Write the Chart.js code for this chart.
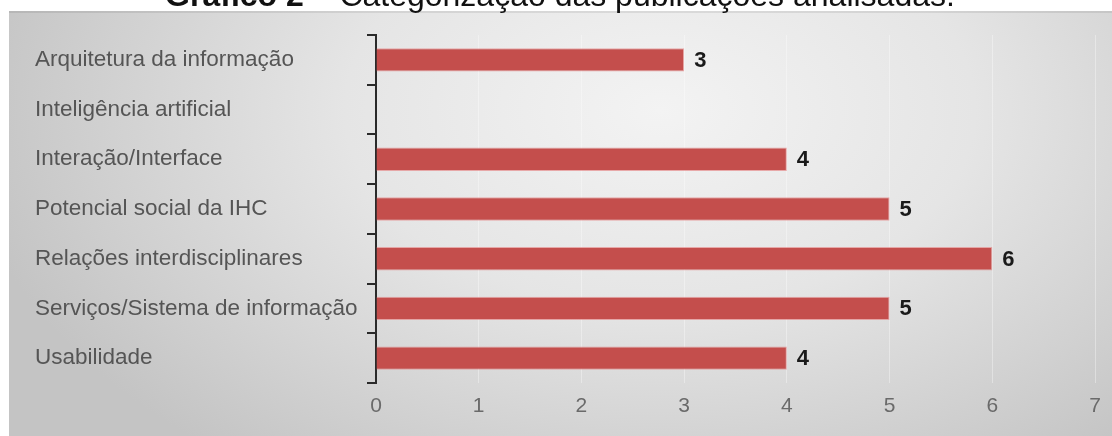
<!DOCTYPE html>
<html>
<head>
<meta charset="utf-8">
<script src="https://cdn.jsdelivr.net/npm/chart.js@4.4.1/dist/chart.umd.min.js"></script>
<style>
  html, body { margin: 0; padding: 0; background: #fff; }
  canvas { display: block; }
</style>
</head>
<body>
<canvas id="grafico" width="1112" height="436"></canvas>
<script>
// dados do gráfico
const categorias = [
  'Arquitetura da informação',
  'Inteligência artificial',
  'Interação/Interface',
  'Potencial social da IHC',
  'Relações interdisciplinares',
  'Serviços/Sistema de informação',
  'Usabilidade'
];
const publicacoes = [3, 0, 4, 5, 6, 5, 4];
const eixoMin = 0;
const eixoMax = 7;
const tituloNegrito = 'Gráfico 2';
const tituloResto = ' – Categorização das publicações analisadas.';

// fundo cinza em degradê + título (cortado no topo)
const fundo = {
  id: 'fundo',
  beforeDraw(chart) {
    const ctx = chart.ctx;
    const W = chart.width, H = chart.height;
    ctx.save();
    ctx.fillStyle = '#fff';
    ctx.fillRect(0, 0, W, H);

    // caixa com degradê radial elíptico
    const bx = 9, by = 11;
    const cx = 660, cy = 110, rx = 700, ry = 440;
    ctx.save();
    ctx.translate(cx, cy);
    ctx.scale(1, ry / rx);
    const g = ctx.createRadialGradient(0, 0, 0, 0, 0, rx);
    g.addColorStop(0, '#f3f3f3');
    g.addColorStop(0.45, '#e5e5e5');
    g.addColorStop(1, '#c4c4c4');
    ctx.fillStyle = g;
    const k = rx / ry;
    ctx.fillRect(bx - cx, (by - cy) * k, W - bx, (H - by) * k);
    ctx.restore();
    // leve sombra na borda superior
    ctx.fillStyle = 'rgba(0,0,0,0.08)';
    ctx.fillRect(bx, by, W - bx, 2);

    // título
    ctx.textBaseline = 'alphabetic';
    ctx.fillStyle = '#111';
    const fb = 'bold 32px "Liberation Sans", Arial, sans-serif';
    const fn = '32px "Liberation Sans", Arial, sans-serif';
    ctx.font = fb;
    const w1 = ctx.measureText(tituloNegrito).width;
    ctx.font = fn;
    const w2 = ctx.measureText(tituloResto).width;
    const x0 = 560 - (w1 + w2) / 2;
    ctx.font = fb;
    ctx.fillText(tituloNegrito, x0, 6);
    ctx.font = fn;
    ctx.fillText(tituloResto, x0 + w1, 6);
    ctx.restore();
  }
};

// valores no fim das barras
const rotulos = {
  id: 'rotulos',
  afterDatasetsDraw(chart) {
    const ctx = chart.ctx;
    const meta = chart.getDatasetMeta(0);
    ctx.save();
    ctx.font = 'bold 22px "Liberation Sans", Arial, sans-serif';
    ctx.fillStyle = '#1a1a1a';
    ctx.textAlign = 'left';
    ctx.textBaseline = 'middle';
    meta.data.forEach(function(bar, i) {
      const v = publicacoes[i];
      if (!v) return;
      ctx.fillText(String(v), bar.x + 10, bar.y + 1);
    });
    ctx.restore();
  }
};

new Chart(document.getElementById('grafico'), {
  type: 'bar',
  data: {
    labels: categorias,
    datasets: [{
      data: publicacoes,
      backgroundColor: '#c44e4c',
      borderColor: 'rgba(230,140,140,0.7)',
      borderWidth: 1,
      borderSkipped: 'start',
      barPercentage: 0.47,
      categoryPercentage: 1
    }]
  },
  options: {
    indexAxis: 'y',
    responsive: false,
    animation: false,
    devicePixelRatio: 1,
    layout: { padding: { top: 35, left: 35, right: 17, bottom: 0 } },
    plugins: {
      legend: { display: false },
      tooltip: { enabled: false },
      title: { display: false }
    },
    scales: {
      x: {
        min: eixoMin,
        max: eixoMax,
        ticks: {
          stepSize: 1,
          color: '#6a6a6a',
          padding: 11,
          font: { size: 21, family: '"Liberation Sans", Arial, sans-serif' }
        },
        grid: { color: 'rgba(255,255,255,0.35)', lineWidth: 1, drawTicks: false },
        border: { display: false },
        afterFit: function(s) { s.height = 53; }
      },
      y: {
        ticks: {
          crossAlign: 'far',
          color: '#555',
          font: { size: 22.5, family: '"Liberation Sans", Arial, sans-serif' }
        },
        grid: {
          drawOnChartArea: false,
          drawTicks: true,
          tickLength: 9,
          color: '#2a2a2a',
          lineWidth: 2
        },
        border: { display: true, color: '#2a2a2a', width: 2 },
        afterFit: function(s) { s.width = 341; }
      }
    }
  },
  plugins: [fundo, rotulos]
});
</script>
</body>
</html>
